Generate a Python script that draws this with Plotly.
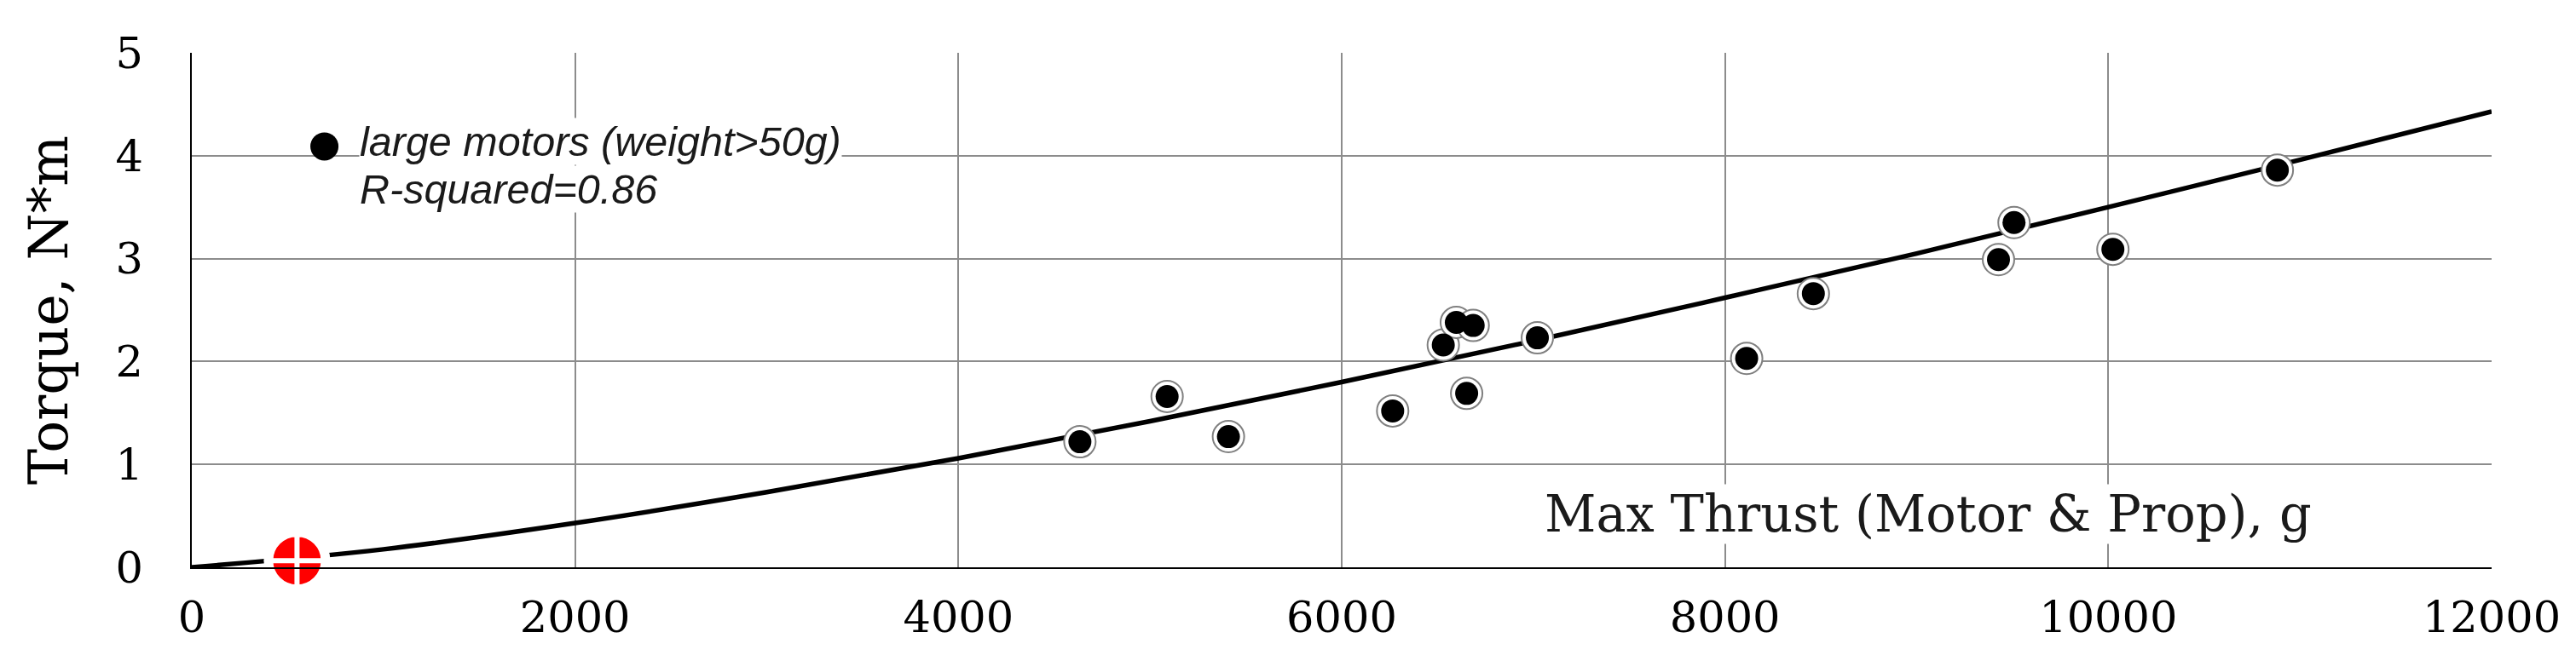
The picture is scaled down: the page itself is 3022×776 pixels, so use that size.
import plotly.graph_objects as go

# Data
thrust_g = [4634, 5089, 5409, 6266, 6530, 6598, 6686, 6652, 7021, 8113,
            8461, 9427, 9508, 10024, 10882]
torque_nm = [1.22, 1.66, 1.27, 1.52, 2.16, 2.38, 2.35, 1.69, 2.23, 2.03,
             2.66, 2.99, 3.35, 3.09, 3.86]

trend_x = [0, 1000, 2000, 3000, 4000, 5000, 6000, 7000, 8000, 9000, 10000, 11000, 12000]
trend_y = [0.0, 0.175, 0.43, 0.73, 1.06, 1.42, 1.80, 2.20, 2.62, 3.05, 3.50, 3.96, 4.43]

red_x = [549]
red_y = [0.065]

legend_x = [692]
legend_y = [4.09]

x_ticks = [0, 2000, 4000, 6000, 8000, 10000, 12000]
x_ticktext = ["0", "2000", "4000", "6000", "8000", "10000", "12000"]
y_ticks = [0, 1, 2, 3, 4, 5]

legend_line1 = "<i>large motors (weight&gt;50g)</i>"
legend_line2 = "<i>R-squared=0.86</i>"
x_title = "Max Thrust (Motor &amp; Prop), g"
y_title = "Torque, N*m"

fig = go.Figure()

# trend curve
fig.add_trace(go.Scatter(x=trend_x, y=trend_y, mode="lines",
                         line=dict(color="black", width=5.5, shape="spline"),
                         hoverinfo="skip"))
# white/gray ring behind the data markers
fig.add_trace(go.Scatter(x=thrust_g, y=torque_nm, mode="markers",
                         marker=dict(size=37, color="white",
                                     line=dict(color="#808080", width=2))))
fig.add_trace(go.Scatter(x=thrust_g, y=torque_nm, mode="markers",
                         marker=dict(size=27, color="black", line=dict(width=0))))
# red marker near the origin
fig.add_trace(go.Scatter(x=red_x, y=red_y, mode="markers",
                         marker=dict(size=78, color="white", line=dict(width=0)),
                         cliponaxis=False))
fig.add_trace(go.Scatter(x=red_x, y=red_y, mode="markers",
                         marker=dict(size=62, color="#ff0000", symbol="circle-cross",
                                     line=dict(color="white", width=6)),
                         cliponaxis=False))
# legend marker
fig.add_trace(go.Scatter(x=legend_x, y=legend_y, mode="markers",
                         marker=dict(size=33, color="black", line=dict(width=0))))

legend_font = dict(family="Liberation Sans", size=48.5, color="#1a1a1a")
fig.add_annotation(x=870, y=4.14, xref="x", yref="y", xanchor="left", yanchor="middle",
                   text=legend_line1, showarrow=False, align="left",
                   bgcolor="white", borderpad=0, font=legend_font)
fig.add_annotation(x=870, y=3.675, xref="x", yref="y", xanchor="left", yanchor="middle",
                   text=legend_line2, showarrow=False, align="left",
                   bgcolor="white", borderpad=0, font=legend_font)
fig.add_annotation(x=9059, y=0.52, xref="x", yref="y", xanchor="center", yanchor="middle",
                   text=x_title, showarrow=False, bgcolor="white", borderpad=0,
                   font=dict(family="DejaVu Serif", size=59, color="#1a1a1a"))

fig.update_layout(
    width=3022, height=776,
    margin=dict(l=217, r=107, t=54, b=118),
    paper_bgcolor="white", plot_bgcolor="white",
    showlegend=False,
    xaxis=dict(range=[0, 12000], tickvals=x_ticks, ticktext=x_ticktext, ticks="",
               showgrid=True, gridcolor="#8c8c8c", gridwidth=1.5,
               zeroline=False, showline=True, linecolor="black", linewidth=2,
               ticklabelstandoff=13,
               tickfont=dict(family="DejaVu Serif", size=51, color="black")),
    yaxis=dict(range=[0, 5], tickvals=y_ticks, ticks="",
               showgrid=True, gridcolor="#8c8c8c", gridwidth=1.5,
               zeroline=False, showline=True, linecolor="black", linewidth=1.5,
               ticklabelstandoff=45,
               tickfont=dict(family="DejaVu Serif", size=51, color="black"),
               title=dict(text=y_title, standoff=36,
                          font=dict(family="DejaVu Serif", size=63, color="black"))),
)

fig.write_html("out.html")
